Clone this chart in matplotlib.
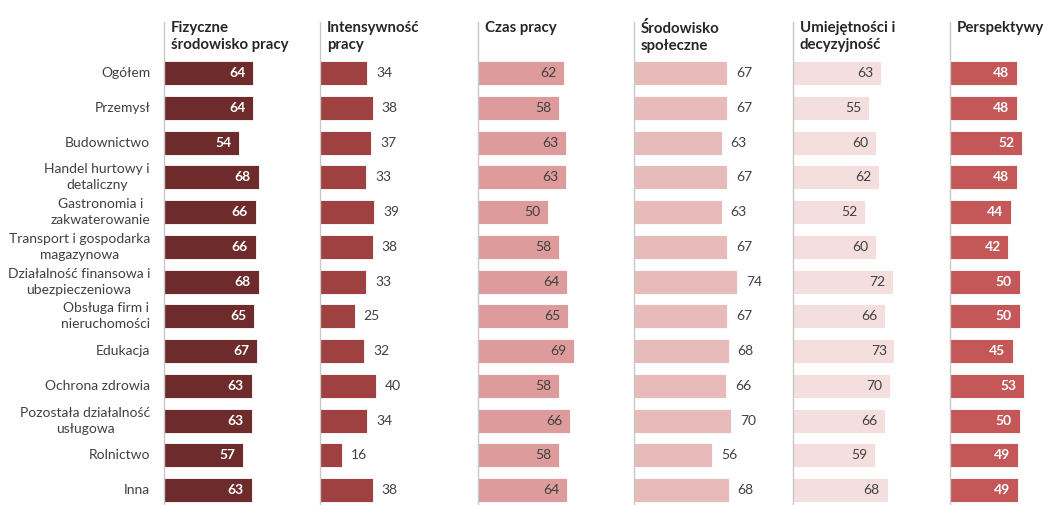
import matplotlib.pyplot as plt
import numpy as np

plt.rcParams['font.family'] = ['Lato', 'DejaVu Sans']

# DANE
kategorie = ['Ogółem', 'Przemysł', 'Budownictwo', 'Handel hurtowy i\ndetaliczny',
             'Gastronomia i\nzakwaterowanie', 'Transport i gospodarka\nmagazynowa',
             'Działalność finansowa i\nubezpieczeniowa', 'Obsługa firm i\nnieruchomości',
             'Edukacja', 'Ochrona zdrowia', 'Pozostała działalność\nusługowa',
             'Rolnictwo', 'Inna']

tytuly = ['Fizyczne\nśrodowisko pracy', 'Intensywność\npracy', 'Czas pracy',
          'Środowisko\nspołeczne', 'Umiejętności i\ndecyzyjność', 'Perspektywy']

fizyczne = [64, 64, 54, 68, 66, 66, 68, 65, 67, 63, 63, 57, 63]
intensywnosc = [34, 38, 37, 33, 39, 38, 33, 25, 32, 40, 34, 16, 38]
czas = [62, 58, 63, 63, 50, 58, 64, 65, 69, 58, 66, 58, 64]
spoleczne = [67, 67, 63, 67, 63, 67, 74, 67, 68, 66, 70, 56, 68]
umiejetnosci = [63, 55, 60, 62, 52, 60, 72, 66, 73, 70, 66, 59, 68]
perspektywy = [48, 48, 52, 48, 44, 42, 50, 50, 45, 53, 50, 49, 49]

serie = [fizyczne, intensywnosc, czas, spoleczne, umiejetnosci, perspektywy]

# styl: kolor słupka, etykieta w środku?, kolor etykiety, pogrubienie
kolory = ['#6E2B2B', '#9F4141', '#DD9B9B', '#E8BBBB', '#F4DEDE', '#C45858']
wewnatrz = [True, False, True, False, True, True]
kolor_tekstu = ['white', '#404040', '#404040', '#404040', '#404040', 'white']
grube = ['bold', 'normal', 'normal', 'normal', 'normal', 'bold']

# GRAFICA
W, H = 1049, 505
fig = plt.figure(figsize=(W/100, H/100), dpi=100)

lewe = [164, 320, 478, 634, 793, 950]
szer = 150
skala = 1.39  # px na jednostkę
y = np.arange(len(kategorie))

for k in range(6):
    ax = fig.add_axes([lewe[k]/W, 0, szer/W, (H-22)/H])
    v = serie[k]
    ax.barh(y, v, height=0.69, color=kolory[k], edgecolor='white', linewidth=0.6)
    ax.set_xlim(0, szer/skala)
    ax.set_ylim(12.43, -1.47)
    for s in ['top', 'right', 'bottom']:
        ax.spines[s].set_visible(False)
    ax.spines['left'].set_color('#C8C8C8')
    ax.spines['left'].set_linewidth(1.0)
    ax.set_xticks([])
    ax.set_yticks([])
    for i, val in enumerate(v):
        if wewnatrz[k]:
            ax.text(val - 5.5, i, str(val), ha='right', va='center',
                    color=kolor_tekstu[k], fontsize=10, fontweight=grube[k])
        else:
            ax.text(val + 6.5, i, str(val), ha='left', va='center',
                    color=kolor_tekstu[k], fontsize=10, fontweight=grube[k])
    ax.text(5, -1.5, tytuly[k], ha='left', va='top', fontsize=10.8,
            fontweight='bold', color='#262626', linespacing=1.3)
    if k == 0:
        for i, nom in enumerate(kategorie):
            ax.text(-10, i, nom, ha='right', va='center', multialignment='center',
                    fontsize=10, color='#404040', linespacing=1.4)

fig.savefig('out.png', dpi=100)
